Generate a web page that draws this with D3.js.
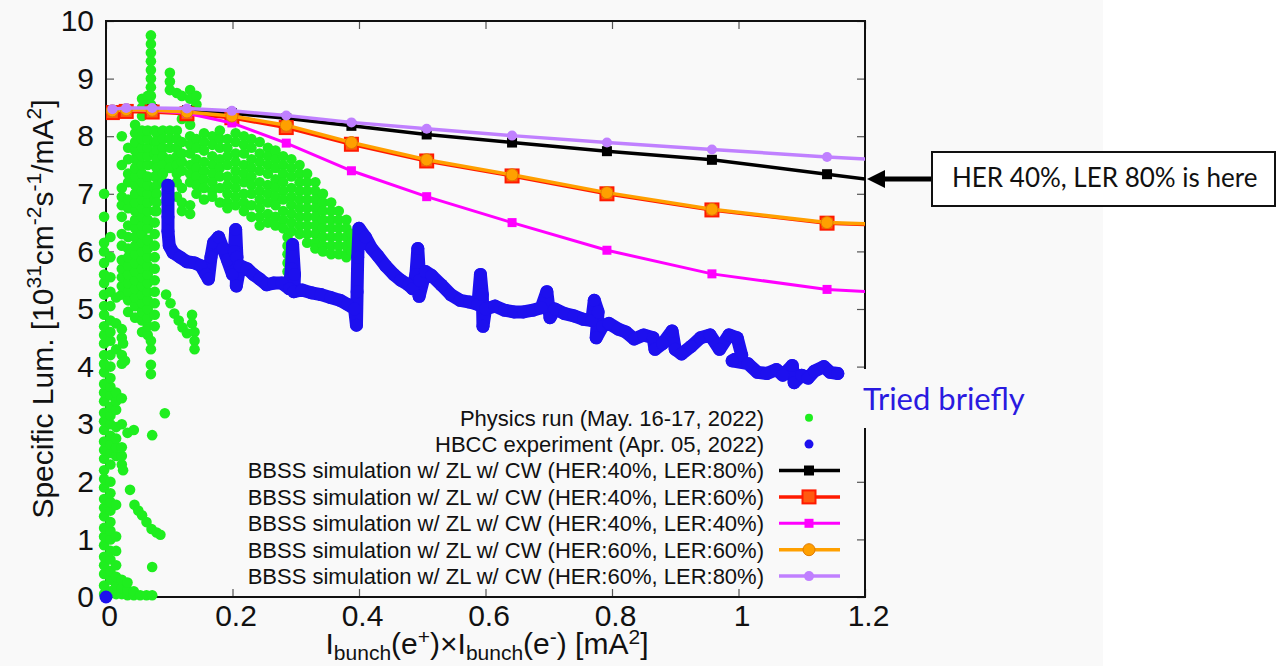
<!DOCTYPE html>
<html lang="en">
<head>
<meta charset="UTF-8">
<title>Specific luminosity vs bunch current product</title>
<script src="https://d3js.org/d3.v7.min.js"></script>
<style>
  body { margin: 0; background: #ffffff; }
  svg { display: block; font-family: "Liberation Sans", Arial, Helvetica, sans-serif; }
</style>
</head>
<body>
<svg id="chart" width="1276" height="666"></svg>
<script>
// ---- data ----
const xTicks = [0, 0.2, 0.4, 0.6, 0.8, 1, 1.2];
const yTicks = [0, 1, 2, 3, 4, 5, 6, 7, 8, 9, 10];

// BBSS simulation points (last point lies beyond the frame and is clipped)
const simX          = [0.01, 0.032, 0.073, 0.128, 0.199, 0.285, 0.388, 0.507, 0.642, 0.792, 0.958, 1.14, 1.34];
const simHer40Ler80 = [8.45, 8.47, 8.47, 8.45, 8.40, 8.31, 8.18, 8.03, 7.89, 7.74, 7.59, 7.34, 7.06];
const simHer40Ler60 = [8.41, 8.43, 8.42, 8.39, 8.32, 8.15, 7.86, 7.57, 7.31, 7.00, 6.72, 6.49, 6.41];
const simHer40Ler40 = [8.44, 8.45, 8.44, 8.40, 8.23, 7.88, 7.40, 6.95, 6.50, 6.02, 5.61, 5.34, 5.22];
const simHer60Ler60 = [8.44, 8.46, 8.45, 8.42, 8.35, 8.19, 7.89, 7.59, 7.33, 7.02, 6.73, 6.50, 6.43];
const simHer60Ler80 = [8.47, 8.49, 8.49, 8.48, 8.44, 8.36, 8.24, 8.13, 8.01, 7.89, 7.77, 7.64, 7.52];

// Physics run (May 16-17, 2022): points grouped by x value
const physicsRun = [
  [-0.003, [0.05, 0.2, 0.4, 0.55, 0.7, 0.9, 1.05, 1.2, 1.4, 1.55, 1.7, 1.9, 2.05, 2.2, 2.4, 2.55, 2.7, 2.9, 3.05, 3.2, 3.4, 3.55, 3.7, 3.9, 4.05, 4.2, 4.4, 4.55, 4.7, 4.9, 5.05, 5.25, 5.45, 5.6, 5.8, 6.0, 6.15, 6.6, 7.0]],
  [0.007, [0.1, 0.3, 0.45, 0.65, 0.8, 1.0, 1.15, 1.3, 1.5, 1.65, 1.8, 2.0, 2.3, 2.5, 2.65, 2.8, 3.0, 3.15, 3.3, 3.5, 3.65, 3.8, 4.0, 4.2, 4.45, 4.6, 4.8, 5.05, 5.3, 5.55, 5.9, 6.25]],
  [0.016, [0.05, 0.2, 0.35, 0.55, 0.8, 1.05, 1.6, 2.45, 2.6, 2.75, 2.95, 3.25, 3.4, 3.55, 4.3, 4.75, 5.2]],
  [0.025, [0.05, 0.15, 0.3, 2.3, 2.45, 2.6, 3.0, 3.45, 4.05, 4.2, 4.5, 4.65, 5.25, 5.4, 5.55, 5.7, 5.85, 6.1, 6.3, 6.6, 6.8, 6.95, 7.1, 7.5, 8.0]],
  [0.034, [0.03, 0.12, 0.25, 2.85]],
  [0.035, [4.95, 5.15, 5.3, 5.45, 5.6, 5.75, 5.9, 6.05, 6.25, 6.45, 6.75, 6.9, 7.2, 7.35, 7.6, 7.8]],
  [0.044, [0.03, 0.1, 2.9]],
  [0.046, [4.85, 5.05, 5.2, 5.35, 5.5, 5.65, 5.8, 5.95, 6.1, 6.25, 6.4, 6.55, 6.7, 6.85, 7.0, 7.15, 7.3, 7.45, 7.6, 7.75, 7.9, 8.05, 8.2]],
  [0.054, [0.03]],
  [0.057, [4.6, 4.8, 4.95, 5.1, 5.25, 5.4, 5.55, 5.7, 5.85, 6.0, 6.15, 6.3, 6.45, 6.6, 6.75, 6.9, 7.05, 7.2, 7.35, 7.5, 7.65, 7.8, 7.95, 8.1, 8.35, 8.5, 8.65]],
  [0.064, [0.03]],
  [0.066, [4.55, 4.7, 4.85, 5.0, 5.15, 5.3, 5.45, 5.6, 5.75, 5.9, 6.05, 6.2, 6.4, 6.55, 6.7, 6.85, 7.0, 7.15, 7.3, 7.5, 7.65, 7.8, 7.95, 8.1, 8.4, 8.55, 8.7]],
  [0.071, [9.75, 9.6, 9.45, 9.3, 9.15, 9.0, 8.85, 8.7, 8.55, 4.45, 4.3, 4.03, 3.87]],
  [0.073, [0.03, 0.52, 2.81]],
  [0.077, [4.7, 4.9, 5.1, 5.3, 5.5, 5.7, 5.9, 6.1, 6.3, 6.5, 6.7, 6.9, 7.1, 7.3, 7.5, 7.7, 7.9, 8.1]],
  [0.027, [2.2, 4.4]], [0.030, [4.1]], [0.038, [1.86]], [0.045, [1.6]], [0.051, [1.5]], [0.057, [1.42]],
  [0.064, [1.3]], [0.072, [1.18]], [0.080, [1.12]], [0.086, [1.08]], [0.093, [3.19]],
  [0.095, [5.25]], [0.102, [5.1]], [0.108, [4.92]], [0.115, [4.8]], [0.121, [4.68]], [0.128, [4.58]],
  [0.136, [4.9, 4.75]], [0.140, [4.6, 4.45, 4.3]],
  [0.080, [8.05, 7.9, 7.75, 7.6, 7.45, 7.3, 7.15, 7.0, 6.85, 6.7]],
  [0.090, [8.1, 7.95, 7.8, 7.65, 7.5, 7.35, 7.2]],
  [0.101, [9.1, 8.95, 8.8, 8.1, 7.95, 7.8, 7.6, 7.45]],
  [0.112, [8.75, 8.1, 7.95, 7.8, 7.65, 7.5, 7.35, 7.2, 6.95]],
  [0.120, [8.7, 8.3, 7.9, 7.7, 7.55, 7.4, 7.1, 6.85, 6.7]],
  [0.133, [8.8, 8.65, 8.45, 8.2, 8.0, 7.85, 7.7, 7.5, 7.35, 7.2, 6.8, 6.65]],
  [0.143, [8.7, 8.55, 7.95, 7.8, 7.6, 7.45, 7.3, 7.15, 7.0]],
  [0.155, [8.05, 7.9, 7.75, 7.55, 7.4, 7.25, 7.1, 6.9]],
  [0.168, [8.0, 7.85, 7.65, 7.5, 7.35, 7.2, 7.05, 6.95]],
  [0.180, [8.1, 7.95, 7.8, 7.6, 7.45, 7.3, 7.1, 6.85]],
  [0.192, [7.95, 7.8, 7.65, 7.5, 7.3, 7.15, 7.0, 6.85, 6.75]],
  [0.205, [8.05, 7.9, 7.7, 7.55, 7.4, 7.25, 7.1, 6.95, 6.8]],
  [0.218, [8.0, 7.85, 7.7, 7.5, 7.35, 7.2, 7.0, 6.85, 6.7]],
  [0.230, [7.95, 7.8, 7.6, 7.45, 7.3, 7.15, 7.0, 6.8, 6.6]],
  [0.243, [7.9, 7.7, 7.55, 7.4, 7.2, 7.05, 6.9, 6.75, 6.6, 6.45]],
  [0.256, [7.8, 7.65, 7.5, 7.35, 7.15, 7.0, 6.85, 6.65, 6.5]],
  [0.268, [7.75, 7.6, 7.45, 7.25, 7.1, 6.95, 6.8, 6.6, 6.45]],
  [0.280, [7.65, 7.5, 7.35, 7.2, 7.05, 6.9, 6.7, 6.55, 6.4]],
  [0.287, [6.25, 6.1, 5.95, 5.8, 5.65, 5.5]],
  [0.293, [7.6, 7.45, 7.3, 7.1, 6.95, 6.8, 6.65, 6.5, 6.35]],
  [0.306, [7.5, 7.35, 7.2, 7.05, 6.9, 6.75, 6.6, 6.45, 6.3]],
  [0.318, [7.35, 7.2, 7.05, 6.9, 6.75, 6.6, 6.45, 6.3, 6.15]],
  [0.331, [7.2, 7.05, 6.9, 6.75, 6.6, 6.45, 6.3, 6.15, 6.05]],
  [0.343, [7.0, 6.85, 6.7, 6.55, 6.4, 6.25, 6.1, 6.0]],
  [0.356, [6.85, 6.7, 6.55, 6.4, 6.25, 6.1, 5.95]],
  [0.368, [6.7, 6.55, 6.4, 6.25, 6.1, 5.95]],
  [0.380, [6.55, 6.4, 6.25, 6.1, 5.95, 5.9]],
  [0.388, [6.3, 6.15, 6.0]]
];

// HBCC experiment (Apr. 05, 2022): one stray point at the origin, then the trail
const hbccOrigin = [0, 0];
const hbccRun = [
  [0.098, 7.15], [0.098, 6.9], [0.098, 6.6], [0.098, 6.35], [0.1, 6.1], [0.106, 5.98], [0.117, 5.9],
  [0.128, 5.82], [0.14, 5.8], [0.15, 5.75], [0.158, 5.6], [0.162, 5.52], [0.166, 5.9], [0.17, 6.15],
  [0.178, 6.25], [0.185, 6.05], [0.192, 5.85], [0.2, 5.6], [0.203, 6.0], [0.205, 6.38], [0.207, 5.9],
  [0.206, 5.4], [0.212, 5.75], [0.223, 5.7], [0.233, 5.6], [0.243, 5.52], [0.254, 5.42], [0.265, 5.45],
  [0.278, 5.45], [0.29, 5.35], [0.293, 5.7], [0.295, 6.12], [0.298, 5.6], [0.297, 5.3], [0.31, 5.33],
  [0.325, 5.28], [0.34, 5.25], [0.355, 5.2], [0.37, 5.15], [0.382, 5.08], [0.393, 5.0], [0.396, 4.72],
  [0.397, 5.3], [0.398, 5.9], [0.4, 6.4], [0.41, 6.25], [0.42, 6.05], [0.43, 5.92], [0.442, 5.75],
  [0.455, 5.6], [0.466, 5.5], [0.478, 5.42], [0.485, 5.35], [0.49, 5.6], [0.493, 6.05], [0.496, 5.5],
  [0.495, 5.22], [0.505, 5.65], [0.515, 5.58], [0.53, 5.42], [0.545, 5.25], [0.56, 5.15], [0.575, 5.12],
  [0.588, 5.08], [0.592, 5.6], [0.595, 5.25], [0.596, 4.7], [0.6, 5.0], [0.615, 5.05], [0.63, 4.98],
  [0.645, 4.95], [0.66, 4.95], [0.675, 4.98], [0.688, 5.02], [0.697, 5.3], [0.702, 4.85], [0.71, 5.0],
  [0.725, 4.92], [0.74, 4.88], [0.755, 4.82], [0.768, 4.8], [0.772, 5.15], [0.778, 4.95], [0.775, 4.5],
  [0.785, 4.7], [0.795, 4.75], [0.81, 4.65], [0.822, 4.6], [0.835, 4.48], [0.85, 4.55], [0.865, 4.5],
  [0.868, 4.3], [0.88, 4.4], [0.895, 4.62], [0.9, 4.3], [0.91, 4.22], [0.925, 4.35], [0.94, 4.5],
  [0.955, 4.55], [0.97, 4.3], [0.985, 4.55], [0.998, 4.5], [1.005, 4.2], [0.99, 4.1], [1.015, 4.05],
  [1.03, 3.9], [1.045, 3.88], [1.06, 3.95], [1.07, 3.85], [1.085, 4.02], [1.088, 3.72], [1.1, 3.85],
  [1.11, 3.8], [1.12, 3.92], [1.135, 4.0], [1.145, 3.9], [1.157, 3.88]
];

const legendLabels = [
  "Physics run (May. 16-17, 2022)",
  "HBCC experiment (Apr. 05, 2022)",
  "BBSS simulation w/ ZL w/ CW (HER:40%, LER:80%)",
  "BBSS simulation w/ ZL w/ CW (HER:40%, LER:60%)",
  "BBSS simulation w/ ZL w/ CW (HER:40%, LER:40%)",
  "BBSS simulation w/ ZL w/ CW (HER:60%, LER:60%)",
  "BBSS simulation w/ ZL w/ CW (HER:60%, LER:80%)"
];

// ---- drawing ----
const green = "#1fee1f", blue = "#1d10ee";
const simSeries = [
  { ys: simHer40Ler80, color: "#000000", width: 3.5, marker: "square", size: 10, fill: "#000000" },
  { ys: simHer40Ler60, color: "#ff1a00", width: 3.5, marker: "square", size: 13, fill: "#ff5a10" },
  { ys: simHer40Ler40, color: "#ff00ff", width: 3,   marker: "square", size: 9,  fill: "#ff00ff" },
  { ys: simHer60Ler60, color: "#ffa000", width: 3.5, marker: "circle", size: 6,  fill: "#ffa000" },
  { ys: simHer60Ler80, color: "#c080ff", width: 3.5, marker: "circle", size: 5,  fill: "#c080ff" }
];

const svg = d3.select("#chart");
const plot = { left: 106, right: 865, top: 21, bottom: 597 };
const x = d3.scaleLinear().domain([0, 1.2]).range([plot.left, plot.right]);
const y = d3.scaleLinear().domain([0, 10]).range([plot.bottom, plot.top]);

// slide image background
svg.append("rect").attr("x", 0).attr("y", 0).attr("width", 1103).attr("height", 666).attr("fill", "#f9f9f9");

svg.append("defs").append("clipPath").attr("id", "plot-clip")
  .append("rect")
  .attr("x", plot.left).attr("y", plot.top)
  .attr("width", plot.right - plot.left).attr("height", plot.bottom - plot.top);

// axes with inward ticks on all four sides
const tickStroke = "#555";
const gBottom = svg.append("g").attr("transform", `translate(0,${plot.bottom})`)
  .call(d3.axisBottom(x).tickValues(xTicks).tickSizeInner(-8).tickSizeOuter(0).tickPadding(8)
    .tickFormat(d => d3.format("")(d)));
gBottom.selectAll("text").attr("x", 3).style("font-size", "30px").attr("fill", "#111");

const gLeft = svg.append("g").attr("transform", `translate(${plot.left},0)`)
  .call(d3.axisLeft(y).tickValues(yTicks).tickSizeInner(-8).tickSizeOuter(0).tickPadding(12));
gLeft.selectAll("text").style("font-size", "30px").attr("fill", "#111");

svg.append("g").attr("transform", `translate(0,${plot.top})`)
  .call(d3.axisTop(x).tickValues(xTicks).tickSizeInner(-8).tickSizeOuter(0).tickFormat(""));
svg.append("g").attr("transform", `translate(${plot.right},0)`)
  .call(d3.axisRight(y).tickValues(yTicks).tickSizeInner(-8).tickSizeOuter(0).tickFormat(""));

svg.selectAll(".tick line").attr("stroke", tickStroke).attr("stroke-width", 1.2);
svg.selectAll(".domain").remove();

svg.append("rect")
  .attr("x", plot.left).attr("y", plot.top)
  .attr("width", plot.right - plot.left).attr("height", plot.bottom - plot.top)
  .attr("fill", "none").attr("stroke", "#111").attr("stroke-width", 2);

// physics run scatter
const physPts = physicsRun.flatMap(([px, ys]) => ys.map(v => [px, v]));
svg.append("g").selectAll("circle").data(physPts).join("circle")
  .attr("cx", d => x(d[0])).attr("cy", d => y(d[1])).attr("r", 5.3).attr("fill", green);

// HBCC experiment trail
const gH = svg.append("g");
gH.append("path").datum(hbccRun)
  .attr("d", d3.line().x(d => x(d[0])).y(d => y(d[1])))
  .attr("fill", "none").attr("stroke", blue).attr("stroke-width", 13)
  .attr("stroke-linejoin", "round").attr("stroke-linecap", "round");
gH.selectAll("circle").data([hbccOrigin, ...hbccRun]).join("circle")
  .attr("cx", d => x(d[0])).attr("cy", d => y(d[1])).attr("r", 6.5).attr("fill", blue);

// simulation lines
function drawMarker(g, s, cx, cy) {
  if (s.marker === "square") {
    g.append("rect").attr("x", cx - s.size / 2).attr("y", cy - s.size / 2)
      .attr("width", s.size).attr("height", s.size).attr("fill", s.fill)
      .attr("stroke", s.color).attr("stroke-width", s.size > 10 ? 2 : 0);
  } else {
    g.append("circle").attr("cx", cx).attr("cy", cy).attr("r", s.size).attr("fill", s.fill)
      .attr("stroke", s.size > 5 ? "#e07a00" : "none").attr("stroke-width", 1);
  }
}
simSeries.forEach(s => {
  const pts = simX.map((v, i) => [v, s.ys[i]]);
  const g = svg.append("g").attr("clip-path", "url(#plot-clip)");
  g.append("path").datum(pts)
    .attr("d", d3.line().x(d => x(d[0])).y(d => y(d[1])))
    .attr("fill", "none").attr("stroke", s.color).attr("stroke-width", s.width);
  pts.forEach(p => drawMarker(g, s, x(p[0]), y(p[1])));
});

// legend
const legX = 764, legY0 = 417.7, legDy = 26.4;
const legend = svg.append("g").style("font-size", "22px").attr("fill", "#111");
legendLabels.forEach((lab, i) => {
  const cy = legY0 + i * legDy;
  legend.append("text").attr("x", legX).attr("y", cy + 7.8).attr("text-anchor", "end").text(lab);
  if (i === 0) {
    legend.append("circle").attr("cx", 809).attr("cy", cy).attr("r", 4).attr("fill", green);
  } else if (i === 1) {
    legend.append("circle").attr("cx", 809).attr("cy", cy).attr("r", 4.5).attr("fill", blue);
  } else {
    const s = simSeries[i - 2];
    legend.append("line").attr("x1", 779).attr("x2", 840).attr("y1", cy).attr("y2", cy)
      .attr("stroke", s.color).attr("stroke-width", s.width);
    drawMarker(legend, s, 809, cy);
  }
});

// axis titles
const yTitle = svg.append("text")
  .attr("transform", "translate(53,309) rotate(-90)")
  .attr("text-anchor", "middle").style("font-size", "30px").attr("fill", "#111");
[["Specific Lum. [10", 0, 30], ["31", -12, 21], ["cm", 12, 30], ["-2", -12, 21], ["s", 12, 30],
 ["-1", -12, 21], ["/mA", 12, 30], ["2", -12, 21], ["]", 12, 30]].forEach(([t, dy, fs]) => {
  yTitle.append("tspan").attr("dy", dy).style("font-size", fs + "px").text(t);
});

const xTitle = svg.append("text")
  .attr("x", 487).attr("y", 654)
  .attr("text-anchor", "middle").style("font-size", "30px").attr("fill", "#111");
[["I", 0, 30], ["bunch", 6, 21], ["(e", -6, 30], ["+", -10, 21], [")\u00d7I", 10, 30],
 ["bunch", 6, 21], ["(e", -6, 30], ["-", -10, 21], [") [mA", 10, 30], ["2", -10, 21], ["]", 10, 30]]
  .forEach(([t, dy, fs]) => {
    xTitle.append("tspan").attr("dy", dy).style("font-size", fs + "px").text(t);
  });

// "Tried briefly" note sits on a patch that hides the frame behind it
svg.append("rect").attr("x", 848).attr("y", 369).attr("width", 190).attr("height", 59).attr("fill", "#f9f9f9");
svg.append("text").attr("x", 863).attr("y", 410)
  .style("font-family", "Lato, 'Open Sans', sans-serif").style("font-size", "31px")
  .attr("fill", "#2a1ae0").text("Tried briefly");

// callout box with arrow
const calloutY = y(simHer40Ler80[11] + (simHer40Ler80[12] - simHer40Ler80[11]) * (1.2 - simX[11]) / (simX[12] - simX[11]));
svg.append("line").attr("x1", 932).attr("x2", 882).attr("y1", calloutY).attr("y2", calloutY)
  .attr("stroke", "#000").attr("stroke-width", 5);
svg.append("path")
  .attr("d", `M${x(1.2) + 2},${calloutY} L${x(1.2) + 20},${calloutY - 9} L${x(1.2) + 20},${calloutY + 9} Z`)
  .attr("fill", "#000");
svg.append("rect").attr("x", 932).attr("y", 152).attr("width", 343).attr("height", 54)
  .attr("fill", "#ffffff").attr("stroke", "#111").attr("stroke-width", 2);
svg.append("text").attr("x", 952).attr("y", 187)
  .style("font-family", "Lato, 'Open Sans', sans-serif").style("font-size", "26px")
  .attr("fill", "#111").text("HER 40%, LER 80% is here");
</script>
</body>
</html>
